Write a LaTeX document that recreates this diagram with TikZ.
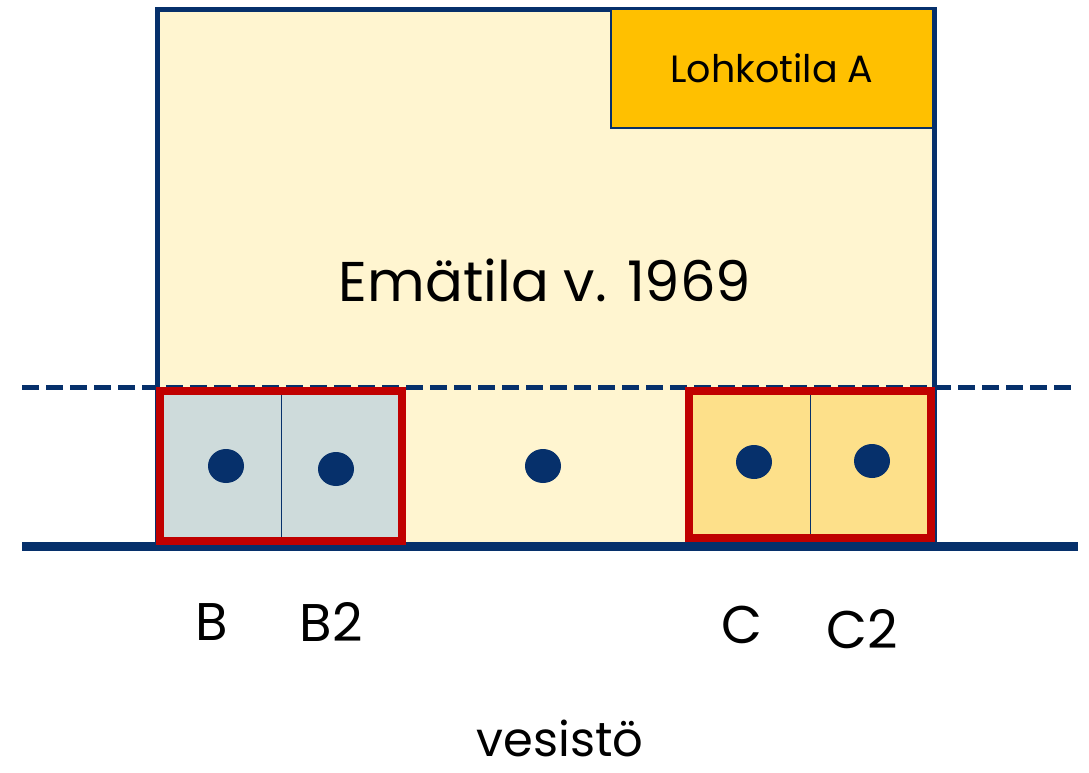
\documentclass[tikz,border=0pt]{standalone}
\usepackage{fontspec}
\setmainfont{Poppins}
\definecolor{navy}{HTML}{06306B}
\definecolor{redb}{HTML}{C00000}
\definecolor{lightyel}{HTML}{FFF5D0}
\definecolor{grayb}{HTML}{CEDBDB}
\definecolor{yelc}{HTML}{FDE08A}
\definecolor{gold}{HTML}{FFC000}
\begin{document}
\begin{tikzpicture}[x=1pt,y=-1pt,
  lbl/.style={font=\fontsize{53}{57}\selectfont, text=black},
  dot/.style={fill=navy, draw=none},
  redbox/.style={draw=redb, line width=7.5pt},
  divider/.style={draw=navy, line width=1pt}]
\useasboundingbox (0,0) rectangle (1089,772);
% main parcel
\draw[fill=lightyel, draw=navy, line width=5pt] (157,9) rectangle (934,545);
% lohkotila A
\node[draw=navy, line width=2pt, fill=gold, minimum width=322pt, minimum height=119pt, inner sep=0pt,
  font=\fontsize{38}{42}\selectfont] (lohko) at (772,68.5) {Lohkotila A};
% main label
\node[font=\fontsize{56}{60}\selectfont] (ema) at (545,280) {Emätila v. 1969};
% baseline (shore)
\coordinate (sl) at (22,546);
\coordinate (sr) at (1078,546);
\draw[navy, line width=9pt] (sl) -- (sr);
% dashed line
\coordinate (dl) at (22,387);
\coordinate (dr) at (1075,387);
\draw[navy, line width=5pt, dash pattern=on 17pt off 7pt] (dl) -- (dr);
% B group
\fill[grayb] (160,391) rectangle (402,541);
\draw[divider] (281,391) -- (281,545);
\draw[redbox] (160,391) rectangle (402,541);
% C group
\fill[yelc] (689,391) rectangle (931,538);
\draw[divider] (810,391) -- (810,545);
\draw[redbox] (689,391) rectangle (931,538);
% dots
\fill[dot] (226,466) ellipse (18pt and 17pt);
\fill[dot] (336,469) ellipse (18pt and 17pt);
\fill[dot] (543,466) ellipse (18pt and 17pt);
\fill[dot] (754,462) ellipse (18pt and 17pt);
\fill[dot] (872,461) ellipse (18pt and 17pt);
% labels
\node[lbl] (lb) at (212,622) {B};
\node[lbl] (lb2) at (331,622) {B2};
\node[lbl] (lc) at (742,625) {C};
\node[lbl] (lc2) at (862,629) {C2};
\node[lbl, inner sep=0pt, font=\fontsize{48}{52}\selectfont] (ves) at (560,738) {vesistö};
\end{tikzpicture}
\end{document}
